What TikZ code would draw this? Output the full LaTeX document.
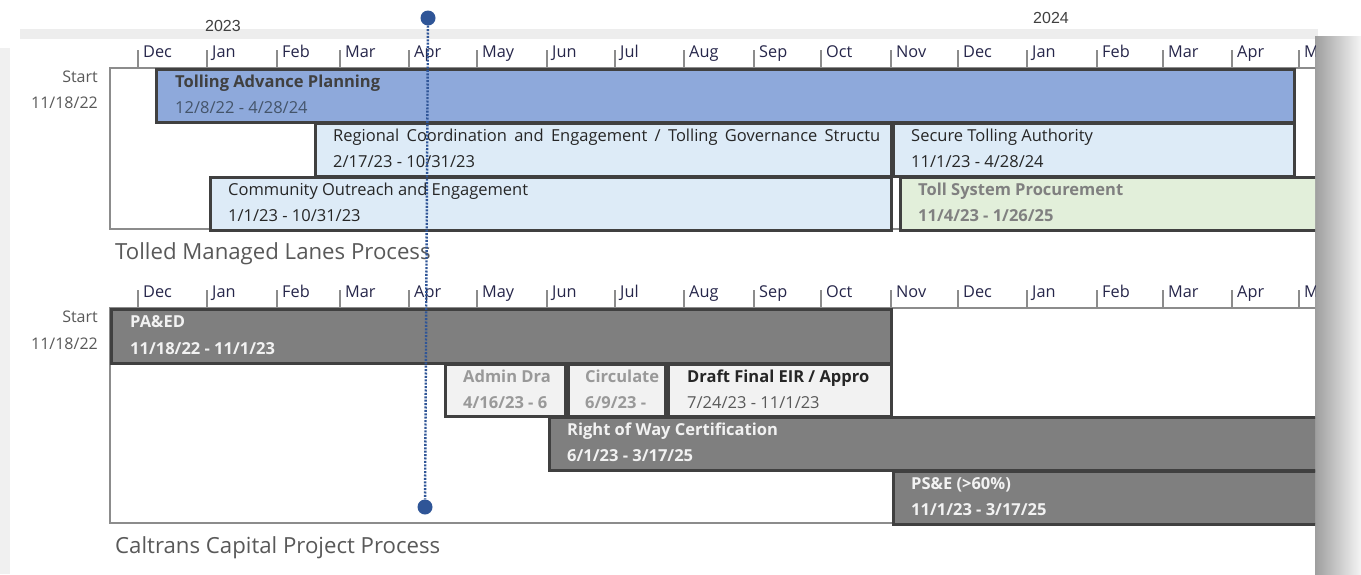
\documentclass[tikz,border=0pt]{standalone}
\usepackage{fontspec}
\setmainfont{Open Sans}
\newfontfamily\yearfont{Liberation Sans}
\usetikzlibrary{positioning}

\definecolor{barline}{HTML}{404040}
\definecolor{framegray}{HTML}{8C8C8C}
\definecolor{planblue}{HTML}{8EA9DB}
\definecolor{paleblue}{HTML}{DDEBF7}
\definecolor{palegreen}{HTML}{E2EFDA}
\definecolor{midgray}{HTML}{7F7F7F}
\definecolor{palegray}{HTML}{F2F2F2}
\definecolor{todayblue}{HTML}{2F5597}
\definecolor{txtgray}{HTML}{595959}
\definecolor{monthink}{HTML}{26264A}
\definecolor{plandate}{HTML}{44546A}

\newcommand{\pxfont}[1]{\fontsize{#1}{#1}\selectfont}

% month header: #1 prefix, #2 tick top, #3 axis
\newcommand{\monthrow}[3]{%
  \foreach \mx/\mname [count=\mi] in {138/Dec,207/Jan,277/Feb,340/Mar,409/Apr,477/May,547/Jun,615/Jul,684/Aug,754/Sep,821/Oct,891/Nov,958/Dec,1027/Jan,1097/Feb,1163/Mar,1232/Apr,1299/May}{
    \draw[tickline] (\mx,#2) -- (\mx,#3);
    \node[monthlbl] (#1\mi) at (\mx+5,#2+7.5) {\mname};
  }%
}

\tikzset{
  ganttbar/.style={draw=barline, line width=2.5pt, anchor=north west, inner sep=0pt},
  barname/.style={anchor=base west, inner sep=0pt, font=\pxfont{16.5}\bfseries},
  bardate/.style={anchor=base west, inner sep=0pt, font=\pxfont{16.5}},
  monthlbl/.style={anchor=base west, inner sep=0pt, font=\pxfont{16.3}, text=monthink},
  tickline/.style={draw=framegray, line width=1.4pt},
  framebox/.style={draw=framegray, line width=1.8pt},
  sidelbl/.style={anchor=base east, inner sep=0pt, font=\pxfont{16}, text=txtgray},
  charttitle/.style={anchor=base west, inner sep=0pt, font=\pxfont{22.2}, text=txtgray},
  yearlbl/.style={anchor=base west, inner sep=0pt, font=\yearfont\pxfont{16}, text=barline},
  todaydot/.style={circle, fill=todayblue, inner sep=0pt, minimum size=15pt},
  todayline/.style={todayblue, line width=2.4pt, dash pattern=on 2pt off 1.4pt},
}

\begin{document}
\begin{tikzpicture}[x=1pt, y=-1pt]
    \useasboundingbox (0,0) rectangle (1361,574);
    \fill[white] (0,0) rectangle (1361,574);

    % drop shadow of the pasted chart
    \fill[black!7] (20,29) rectangle (1318,39);
    \fill[black!6] (0,48) rectangle (10,574);
    \shade[left color=black!38, right color=black!4] (1315,36) rectangle (1361,574);
    \fill[white] (10,39) rectangle (1315,574);

    \node[yearlbl] (y2023) at (205,31.5) {2023};
    \node[yearlbl] (y2024) at (1033,23) {2024};

    \begin{scope}
    \clip (0,0) rectangle (1315,574);

    % Tolled Managed Lanes chart
    \draw[framebox] (110,68) rectangle (1340,229);
    \monthrow{mt}{50}{68}
    \node[sidelbl] (tstart) at (98,82) {Start};
    \node[sidelbl] (tdate) at (98,108) {11/18/22};

    \node[ganttbar, fill=planblue, minimum width=1138pt, minimum height=53pt] (tap) at (155,68) {};
    \node[ganttbar, fill=paleblue, minimum width=576pt, minimum height=53pt] (rce) at (314,122) {};
    \node[ganttbar, fill=paleblue, minimum width=401pt, minimum height=53pt] (sta) at (892,122) {};
    \node[ganttbar, fill=paleblue, minimum width=681pt, minimum height=53pt] (coe) at (209,176) {};
    \node[ganttbar, fill=palegreen, minimum width=440pt, minimum height=53pt] (tsp) at (899,176) {};

    \node[barname, text=barline] (tapn) at ([shift={(20,19)}]tap.north west) {Tolling Advance Planning};
    \node[bardate, text=plandate] (tapd) at ([shift={(20,45)}]tap.north west) {12/8/22 - 4/28/24};
    \node[bardate, text=black!85] (rcen) at ([shift={(19,19)}]rce.north west) {\makebox[547pt][s]{Regional Coordination and Engagement / Tolling Governance Structu}};
    \node[bardate, text=black!85] (rced) at ([shift={(19,45)}]rce.north west) {2/17/23 - 10/31/23};
    \node[bardate, text=black!85] (stan) at ([shift={(19,19)}]sta.north west) {Secure Tolling Authority};
    \node[bardate, text=black!85] (stad) at ([shift={(19,45)}]sta.north west) {11/1/23 - 4/28/24};
    \node[bardate, text=black!85] (coen) at ([shift={(19,19)}]coe.north west) {Community Outreach and Engagement};
    \node[bardate, text=black!85] (coed) at ([shift={(19,45)}]coe.north west) {1/1/23 - 10/31/23};
    \node[barname, text=black!50] (tspn) at ([shift={(19,19)}]tsp.north west) {Toll System Procurement};
    \node[barname, text=black!50] (tspd) at ([shift={(19,45)}]tsp.north west) {11/4/23 - 1/26/25};

    \node[charttitle] (ttitle) at (115,259) {Tolled Managed Lanes Process};

    % Caltrans chart
    \draw[framebox] (110,308) rectangle (1340,523);
    \monthrow{mb}{290}{308}
    \node[sidelbl] (bstart) at (98,322.5) {Start};
    \node[sidelbl] (bdate) at (98,349) {11/18/22};

    \node[ganttbar, fill=midgray, minimum width=780pt, minimum height=54pt] (paed) at (110,308) {};
    \node[ganttbar, fill=palegray, minimum width=120pt, minimum height=52pt] (adm) at (444,363) {};
    \node[ganttbar, fill=palegray, minimum width=97pt, minimum height=52pt] (circ) at (567,363) {};
    \node[ganttbar, fill=palegray, minimum width=223pt, minimum height=52pt] (dfe) at (667,363) {};
    \node[ganttbar, fill=midgray, minimum width=790pt, minimum height=53pt] (row) at (548,416) {};
    \node[ganttbar, fill=midgray, minimum width=446pt, minimum height=53pt] (pse) at (892,470) {};

    \node[barname, text=white!95!black] (paedn) at ([shift={(20,19)}]paed.north west) {PA\&ED};
    \node[barname, text=white!95!black] (paedd) at ([shift={(20,46)}]paed.north west) {11/18/22 - 11/1/23};
    \node[barname, text=black!40] (admn) at ([shift={(19,19)}]adm.north west) {Admin Dra};
    \node[barname, text=black!40] (admd) at ([shift={(19,45)}]adm.north west) {4/16/23 - 6};
    \node[barname, text=black!40] (circn) at ([shift={(18,19)}]circ.north west) {Circulate};
    \node[barname, text=black!40] (circd) at ([shift={(18,45)}]circ.north west) {6/9/23 -};
    \node[barname, text=black!85] (dfen) at ([shift={(20,19)}]dfe.north west) {Draft Final EIR / Appro};
    \node[bardate, text=txtgray] (dfed) at ([shift={(20,45)}]dfe.north west) {7/24/23 - 11/1/23};
    \node[barname, text=white!95!black] (rown) at ([shift={(19,19)}]row.north west) {Right of Way Certification};
    \node[barname, text=white!95!black] (rowd) at ([shift={(19,45)}]row.north west) {6/1/23 - 3/17/25};
    \node[barname, text=white!95!black] (psen) at ([shift={(19,19)}]pse.north west) {PS\&E (>60\%)};
    \node[barname, text=white!95!black] (psed) at ([shift={(19,45)}]pse.north west) {11/1/23 - 3/17/25};

    \node[charttitle] (btitle) at (115,553) {Caltrans Capital Project Process};
    \end{scope}

    % today marker
    \node[todaydot] (todaytop) at (428,18) {};
    \node[todaydot] (todaybot) at (425,507) {};
    \draw[todayline] (todaytop) -- (todaybot);

\end{tikzpicture}
\end{document}
